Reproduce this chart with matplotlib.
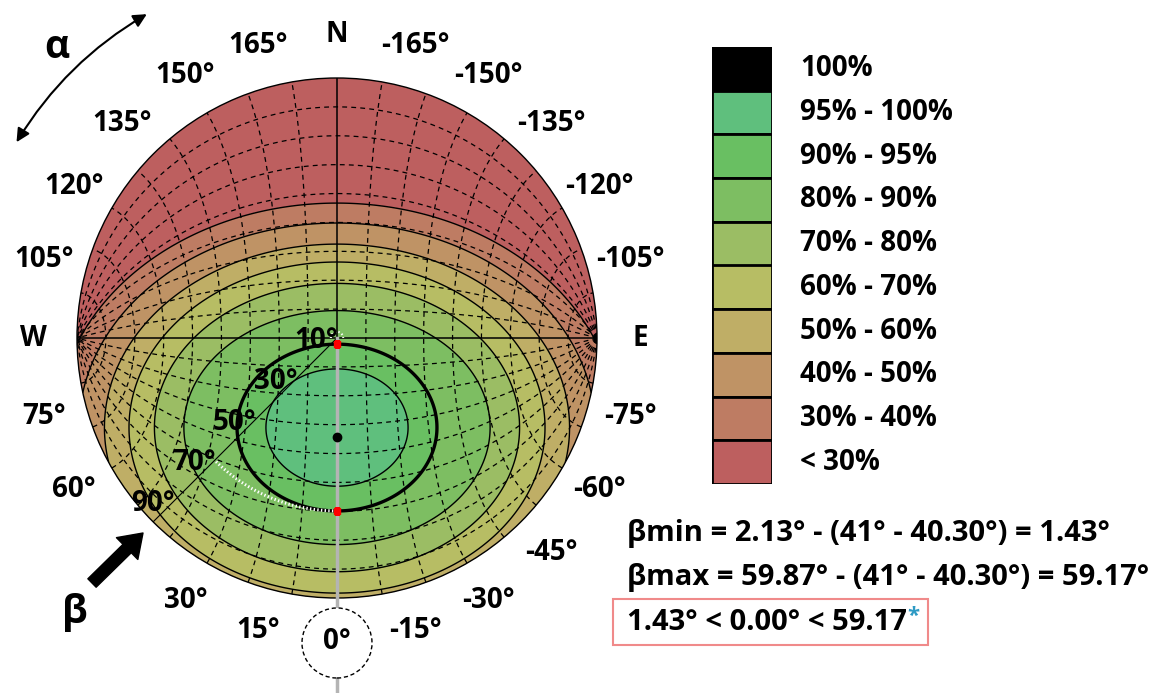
import numpy as np
import matplotlib.pyplot as plt
from matplotlib.patches import Circle, Rectangle

plt.rcParams['font.family'] = ['Open Sans', 'DejaVu Sans']
plt.rcParams['font.weight'] = 'bold'
plt.rcParams['lines.scale_dashes'] = False
plt.rcParams['lines.dashed_pattern'] = [3.5, 3.0]

# efficiency bands: inner edge of each band
levels = [30, 40, 50, 60, 70, 80, 90, 95]
# band outlines as ellipses on the polar chart (degrees of tilt)
v_center = 31.0
v_half = [77.7, 70.8, 63.5, 57.3, 49.9, 40.5, 28.87, 20.3]
u_half = [97.0, 89.3, 80.5, 72.0, 63.2, 53.0, 34.6, 24.6]
band_colors = ['#bd5f5f', '#be7c63', '#bf9365', '#bfae66', '#b7bd64',
               '#9bbd64', '#7dbe62', '#69bf62', '#5fbf7d']

legend_labels = ['100%', '95% - 100%', '90% - 95%', '80% - 90%', '70% - 80%',
                 '60% - 70%', '50% - 60%', '40% - 50%', '30% - 40%', '< 30%']
legend_colors = ['black'] + band_colors[::-1]

best_tilt = 34.3
beta_min, beta_max = 2.13, 59.87
grid_steps = [-80, -70, -60, -50, -40, -30, -20, -10, 10, 20, 30, 40, 50, 60, 70, 80]

outer_alpha = [15, 30, 60, 75, 90, 105, 120, 135, 150, 165, 180,
               -165, -150, -135, -120, -105, -90, -75, -60, -45, -30, -15]
outer_text = ['15°', '30°', '60°', '75°', 'W', '105°', '120°', '135°', '150°', '165°', 'N',
              '-165°', '-150°', '-135°', '-120°', '-105°', 'E', '-75°', '-60°', '-45°', '-30°', '-15°']
beta_ticks = [10, 30, 50, 70, 90]

lines = ['βmin = 2.13° - (41° - 40.30°) = 1.43°',
         'βmax = 59.87° - (41° - 40.30°) = 59.17°',
         '1.43° < 0.00° < 59.17']

FS = 20
W, H = 1158, 693
fig = plt.figure(figsize=(W / 100, H / 100), dpi=100)
ax = fig.add_axes([77 / W, 1 - 598 / H, 520 / W, 520 / H], projection='polar')
ax.set_theta_zero_location('S')
ax.set_theta_direction(-1)
ax.set_ylim(0, 90)
ax.set_xticks([])
ax.set_yticks([])
ax.grid(False)
ax.set_facecolor(band_colors[0])
ax.spines['polar'].set_linewidth(1.0)

a = np.radians(np.linspace(0, 360, 1441))
b = np.linspace(0, 90, 451)
A, B = np.meshgrid(a, b)
U = B * np.sin(A)
V = B * np.cos(A)

for k in range(len(levels)):
    S = ((V - v_center) / v_half[k]) ** 2 + (U / u_half[k]) ** 2
    ax.contourf(A, B, S, levels=[-1, 1], colors=[band_colors[k + 1]], zorder=1)
    ax.contour(A, B, S, levels=[1], colors='black',
               linewidths=2.4 if levels[k] == 90 else 1.0, zorder=3)

# dashed tilt grid (N-S tilt and E-W tilt)
br = np.radians(B)
x = np.sin(br) * np.sin(A)
y = np.sin(br) * np.cos(A)
z = np.cos(br)
T = np.degrees(np.arctan2(y, z))
L = np.degrees(np.arcsin(np.clip(x, -1, 1)))
ax.contour(A, B, T, levels=grid_steps, colors='black', linewidths=0.9,
           linestyles='dashed', zorder=2)
ax.contour(A, B, L, levels=grid_steps, colors='black', linewidths=0.9,
           linestyles='dashed', zorder=2)

for th in [90, -90, 180]:
    ax.plot([np.radians(th)] * 2, [0, 90], color='black', lw=1.1, zorder=4)
ax.plot([np.radians(45)] * 2, [0, 90], color='black', lw=0.8, zorder=4)
ax.plot([0, 0], [0, 123], color='#b4b4b4', lw=2.5, zorder=4, clip_on=False)

arc = np.radians(np.linspace(0, 45, 60))
ax.plot(arc, [beta_max] * len(arc), color='white', ls=':', lw=2.2, zorder=5)
arc2 = np.radians(np.linspace(90, 270, 40))
ax.plot(arc2, [beta_min] * len(arc2), color='white', ls=':', lw=1.5, zorder=5)
ax.plot([0, 0], [beta_min, beta_max], 's', color='red', ms=5, zorder=6)
ax.plot(0, best_tilt, 'o', color='black', ms=6, zorder=6)

for al, tx in zip(outer_alpha, outer_text):
    ax.text(np.radians(al), 105, tx, ha='center', va='center', fontsize=FS,
            fontweight='bold', clip_on=False)
for bt in beta_ticks:
    ax.annotate(f'{bt}°', xy=(np.radians(45), bt), xytext=(0, 18),
                textcoords='offset pixels', ha='center', va='center',
                fontsize=FS, fontweight='bold', zorder=7, annotation_clip=False)

ax.add_artist(Circle((3.37, 0.50), 0.35, transform=fig.dpi_scale_trans,
                     facecolor='white', edgecolor='black', lw=1,
                     ls=(0, (3, 2)), zorder=8, clip_on=False))
ax.text(0, 105, '0°', ha='center', va='center', fontsize=FS, fontweight='bold',
        zorder=9, clip_on=False)

# alpha arrow
ax.annotate('', xy=(np.radians(150), 130), xytext=(np.radians(121), 130),
            arrowprops=dict(arrowstyle='<|-|>', connectionstyle='arc3,rad=-0.13',
                            color='black', lw=1.5, mutation_scale=20),
            annotation_clip=False)
fig.text(57 / W, 1 - 48 / H, 'α', ha='center', va='center', fontsize=28,
         fontweight='bold')
# beta arrow
ax.annotate('', xy=(143, H - 533), xytext=(92, H - 583), xycoords='figure pixels',
            arrowprops=dict(facecolor='black', edgecolor='black', width=8.5,
                            headwidth=22, headlength=16, shrink=0),
            annotation_clip=False)
fig.text(75 / W, 1 - 612 / H, 'β', ha='center', va='center', fontsize=28,
         fontweight='bold')

# legend
ax_leg = fig.add_axes([712 / W, 1 - 484 / H, 60 / W, 437 / H])
for i, c in enumerate(legend_colors):
    ax_leg.add_patch(Rectangle((0, 9 - i), 1, 1, facecolor=c, edgecolor='black', lw=2))
    ax_leg.text(1.47, 9 - i + 0.5, legend_labels[i], va='center', fontsize=FS,
                fontweight='bold')
ax_leg.set_xlim(0, 1)
ax_leg.set_ylim(0, 10)
ax_leg.axis('off')

for i, ln in enumerate(lines):
    fig.text(627 / W, 1 - (533 + 45 * i) / H, ln, va='center', fontsize=21,
             fontweight='bold')
fig.canvas.draw()
bb = fig.texts[-1].get_window_extent()
fig.text(bb.x1 / W, 1 - 616 / H, '*', color='#2e9ac4', va='center', fontsize=16,
         fontweight='bold')
fig.add_artist(Rectangle((613 / W, 1 - 645 / H), 315 / W, 46 / H,
                         transform=fig.transFigure, fill=False,
                         edgecolor='#f08a8a', lw=1.5))

fig.savefig('out.png', dpi=100)
